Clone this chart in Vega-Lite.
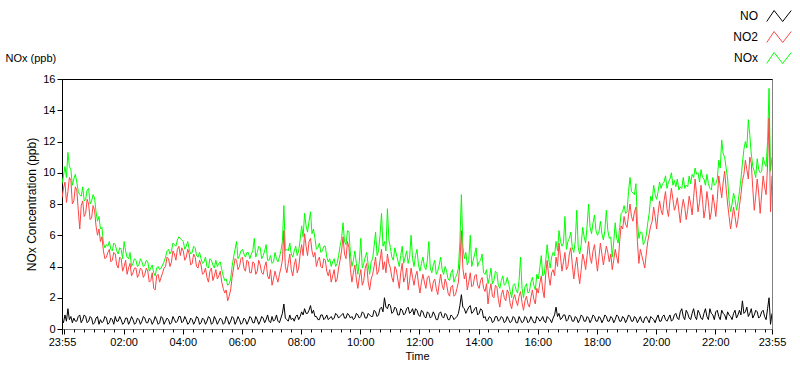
{
  "$schema": "https://vega.github.io/schema/vega-lite/v6.json",
  "width": 710,
  "height": 250,
  "autosize": "none",
  "padding": {"left": 62, "top": 79, "right": 28, "bottom": 40},
  "background": "white",
  "config": {
    "font": "Liberation Sans",
    "view": {"stroke": "#808080", "strokeWidth": 1},
    "axis": {"domainColor": "black", "tickColor": "black", "labelColor": "black", "titleColor": "black", "labelFontSize": 11, "titleFontSize": 11, "titleFontWeight": "normal", "grid": false, "labelFont": "Liberation Sans", "titleFont": "Liberation Sans"},
    "axisY": {"values": [0,2,4,6,8,10,12,14,16], "tickSize": 5, "labelPadding": 2, "titlePadding": 4, "labelOverlap": false, "titleFontSize": 12},
    "legend": {"labelFont": "Liberation Sans"}
  },
  "data": {"values": [
{"m":0,"b":8.4,"c":9.3,"a":0.6},{"m":3,"b":9.0,"c":9.8,"a":0.4},{"m":6,"b":9.4,"c":10.4,"a":0.9},{"m":9,"b":8.1,"c":9.7,"a":0.5},{"m":12,"b":8.8,"c":11.3,"a":1.3},{"m":15,"b":9.7,"c":10.4,"a":0.6},{"m":18,"b":9.5,"c":10.2,"a":0.8},{"m":21,"b":8.0,"c":9.2,"a":0.4},{"m":24,"b":8.2,"c":9.6,"a":0.7},{"m":27,"b":9.1,"c":9.9,"a":0.5},
{"m":30,"b":8.9,"c":9.4,"a":0.5},{"m":33,"b":7.6,"c":8.8,"a":0.8},{"m":36,"b":6.4,"c":8.6,"a":0.9},{"m":39,"b":7.9,"c":8.5,"a":0.4},{"m":42,"b":8.2,"c":9.1,"a":0.6},{"m":45,"b":7.2,"c":8.2,"a":0.9},{"m":48,"b":7.4,"c":8.3,"a":0.8},{"m":51,"b":8.3,"c":8.9,"a":0.4},{"m":54,"b":8.0,"c":9.0,"a":0.5},{"m":57,"b":7.0,"c":8.0,"a":0.8},
{"m":60,"b":7.1,"c":8.2,"a":0.7},{"m":63,"b":7.9,"c":8.6,"a":0.3},{"m":66,"b":7.6,"c":8.4,"a":0.4},{"m":69,"b":6.6,"c":7.5,"a":0.7},{"m":72,"b":6.0,"c":6.9,"a":0.8},{"m":75,"b":6.4,"c":7.2,"a":0.3},{"m":78,"b":5.6,"c":6.4,"a":0.6},{"m":81,"b":5.9,"c":6.5,"a":0.4},{"m":84,"b":5.0,"c":5.5,"a":0.5},{"m":87,"b":4.5,"c":5.2,"a":0.8},
{"m":90,"b":4.6,"c":5.4,"a":0.7},{"m":93,"b":4.9,"c":5.3,"a":0.3},{"m":96,"b":5.1,"c":5.6,"a":0.4},{"m":99,"b":4.3,"c":5.1,"a":0.7},{"m":102,"b":4.4,"c":5.0,"a":0.6},{"m":105,"b":4.9,"c":5.5,"a":0.3},{"m":108,"b":4.8,"c":5.4,"a":0.8},{"m":111,"b":4.1,"c":5.0,"a":0.5},{"m":114,"b":3.9,"c":4.8,"a":0.5},{"m":117,"b":4.6,"c":5.2,"a":0.8},
{"m":120,"b":4.5,"c":5.1,"a":0.6},{"m":123,"b":3.7,"c":4.5,"a":0.3},{"m":126,"b":4.0,"c":5.6,"a":0.4},{"m":129,"b":4.4,"c":5.0,"a":0.7},{"m":132,"b":3.5,"c":4.6,"a":0.7},{"m":135,"b":3.9,"c":4.5,"a":0.3},{"m":138,"b":4.2,"c":4.9,"a":0.5},{"m":141,"b":3.4,"c":4.0,"a":0.8},{"m":144,"b":3.6,"c":4.2,"a":0.6},{"m":147,"b":3.9,"c":4.5,"a":0.3},
{"m":150,"b":3.9,"c":4.4,"a":0.4},{"m":153,"b":3.3,"c":4.0,"a":0.7},{"m":156,"b":3.5,"c":4.1,"a":0.6},{"m":159,"b":3.9,"c":4.5,"a":0.3},{"m":162,"b":3.8,"c":4.3,"a":0.5},{"m":165,"b":3.3,"c":4.0,"a":0.8},{"m":168,"b":3.5,"c":4.1,"a":0.7},{"m":171,"b":3.9,"c":4.4,"a":0.4},{"m":174,"b":3.7,"c":4.3,"a":0.4},{"m":177,"b":3.0,"c":3.7,"a":0.7},
{"m":180,"b":3.1,"c":3.9,"a":0.6},{"m":183,"b":3.6,"c":4.1,"a":0.3},{"m":186,"b":2.6,"c":3.6,"a":0.5},{"m":189,"b":2.5,"c":3.4,"a":0.8},{"m":192,"b":3.4,"c":3.9,"a":0.6},{"m":195,"b":3.5,"c":4.0,"a":0.3},{"m":198,"b":3.0,"c":3.8,"a":0.4},{"m":201,"b":3.3,"c":3.9,"a":0.8},{"m":204,"b":3.6,"c":4.1,"a":0.7},{"m":207,"b":3.9,"c":4.3,"a":0.3},
{"m":210,"b":4.0,"c":4.6,"a":0.5},{"m":213,"b":4.6,"c":5.0,"a":0.7},{"m":216,"b":4.5,"c":5.1,"a":0.6},{"m":219,"b":4.0,"c":4.8,"a":0.3},{"m":222,"b":4.3,"c":5.0,"a":0.4},{"m":225,"b":5.0,"c":5.5,"a":0.8},{"m":228,"b":4.8,"c":5.4,"a":0.6},{"m":231,"b":4.4,"c":5.3,"a":0.4},{"m":234,"b":5.1,"c":5.7,"a":0.5},{"m":237,"b":5.3,"c":5.9,"a":0.8},
{"m":240,"b":4.7,"c":5.8,"a":0.8},{"m":243,"b":5.2,"c":5.7,"a":0.4},{"m":246,"b":5.0,"c":5.6,"a":0.5},{"m":249,"b":4.4,"c":5.1,"a":0.8},{"m":252,"b":4.6,"c":5.3,"a":0.6},{"m":255,"b":5.1,"c":5.6,"a":0.3},{"m":258,"b":4.8,"c":5.1,"a":0.4},{"m":261,"b":4.1,"c":4.8,"a":0.7},{"m":264,"b":4.2,"c":4.9,"a":0.6},{"m":267,"b":4.8,"c":5.3,"a":0.3},
{"m":270,"b":4.6,"c":5.2,"a":0.5},{"m":273,"b":4.0,"c":4.7,"a":0.8},{"m":276,"b":3.9,"c":4.6,"a":0.7},{"m":279,"b":4.4,"c":4.9,"a":0.3},{"m":282,"b":4.1,"c":4.5,"a":0.4},{"m":285,"b":3.5,"c":4.2,"a":0.7},{"m":288,"b":3.6,"c":4.3,"a":0.6},{"m":291,"b":3.9,"c":4.6,"a":0.3},{"m":294,"b":3.3,"c":4.0,"a":0.5},{"m":297,"b":3.0,"c":3.9,"a":0.8},
{"m":300,"b":3.7,"c":4.5,"a":0.7},{"m":303,"b":3.9,"c":4.4,"a":0.3},{"m":306,"b":3.1,"c":4.1,"a":0.4},{"m":309,"b":3.4,"c":3.9,"a":0.8},{"m":312,"b":3.8,"c":4.4,"a":0.6},{"m":315,"b":3.2,"c":4.0,"a":0.3},{"m":318,"b":3.4,"c":4.2,"a":0.5},{"m":321,"b":3.7,"c":4.3,"a":0.7},{"m":324,"b":3.0,"c":3.8,"a":0.6},{"m":327,"b":2.6,"c":3.4,"a":0.3},
{"m":330,"b":2.3,"c":3.1,"a":0.4},{"m":333,"b":2.5,"c":3.2,"a":0.8},{"m":336,"b":1.8,"c":2.8,"a":0.6},{"m":339,"b":2.1,"c":2.9,"a":0.3},{"m":342,"b":2.5,"c":3.2,"a":0.5},{"m":345,"b":3.3,"c":4.0,"a":0.8},{"m":348,"b":3.9,"c":4.6,"a":0.7},{"m":351,"b":4.5,"c":5.1,"a":0.3},{"m":354,"b":4.4,"c":5.6,"a":0.5},{"m":357,"b":3.8,"c":4.5,"a":0.8},
{"m":360,"b":4.0,"c":4.7,"a":0.6},{"m":363,"b":4.5,"c":5.0,"a":0.3},{"m":366,"b":4.6,"c":5.1,"a":0.4},{"m":369,"b":3.9,"c":4.8,"a":0.7},{"m":372,"b":3.7,"c":4.6,"a":0.6},{"m":375,"b":4.4,"c":4.9,"a":0.3},{"m":378,"b":4.3,"c":4.9,"a":0.5},{"m":381,"b":3.6,"c":4.5,"a":0.8},{"m":384,"b":3.6,"c":4.8,"a":0.7},{"m":387,"b":4.3,"c":5.0,"a":0.4},
{"m":390,"b":4.2,"c":5.8,"a":0.4},{"m":393,"b":3.5,"c":4.6,"a":0.8},{"m":396,"b":3.7,"c":4.9,"a":0.6},{"m":399,"b":4.4,"c":5.3,"a":0.3},{"m":402,"b":4.1,"c":5.2,"a":0.5},{"m":405,"b":3.6,"c":4.5,"a":0.8},{"m":408,"b":3.5,"c":4.7,"a":0.7},{"m":411,"b":4.0,"c":5.0,"a":0.4},{"m":414,"b":4.3,"c":5.4,"a":0.6},{"m":417,"b":3.4,"c":4.4,"a":0.9},
{"m":420,"b":3.2,"c":4.4,"a":0.5},{"m":423,"b":3.8,"c":4.7,"a":0.4},{"m":426,"b":2.8,"c":4.2,"a":0.8},{"m":429,"b":3.2,"c":4.3,"a":0.5},{"m":432,"b":3.7,"c":4.9,"a":0.6},{"m":435,"b":3.3,"c":4.5,"a":0.9},{"m":438,"b":3.0,"c":4.3,"a":0.5},{"m":441,"b":3.5,"c":4.6,"a":0.4},{"m":444,"b":3.9,"c":5.0,"a":0.7},{"m":447,"b":4.4,"c":5.6,"a":1.0},
{"m":450,"b":6.3,"c":7.9,"a":1.6},{"m":453,"b":4.0,"c":5.0,"a":0.7},{"m":456,"b":3.6,"c":5.1,"a":0.6},{"m":459,"b":4.2,"c":5.0,"a":0.5},{"m":462,"b":4.8,"c":5.5,"a":0.9},{"m":465,"b":3.8,"c":4.8,"a":0.6},{"m":468,"b":3.4,"c":4.6,"a":0.7},{"m":471,"b":4.1,"c":5.0,"a":0.5},{"m":474,"b":4.5,"c":5.3,"a":0.8},{"m":477,"b":3.6,"c":4.7,"a":0.9},
{"m":480,"b":3.9,"c":5.0,"a":0.6},{"m":483,"b":4.8,"c":5.7,"a":0.8},{"m":486,"b":5.4,"c":6.6,"a":1.1},{"m":489,"b":4.7,"c":5.9,"a":0.9},{"m":492,"b":6.1,"c":7.4,"a":1.3},{"m":495,"b":5.3,"c":6.6,"a":1.0},{"m":498,"b":4.7,"c":6.2,"a":1.0},{"m":501,"b":5.6,"c":6.9,"a":1.2},{"m":504,"b":5.8,"c":7.5,"a":1.5},{"m":507,"b":5.0,"c":6.1,"a":1.0},
{"m":510,"b":4.6,"c":6.4,"a":1.2},{"m":513,"b":4.9,"c":5.8,"a":0.8},{"m":516,"b":4.0,"c":5.1,"a":0.8},{"m":519,"b":4.4,"c":5.2,"a":0.6},{"m":522,"b":4.6,"c":5.5,"a":0.6},{"m":525,"b":4.0,"c":4.9,"a":0.9},{"m":528,"b":3.9,"c":5.0,"a":0.9},{"m":531,"b":4.5,"c":5.3,"a":0.6},{"m":534,"b":4.4,"c":5.3,"a":0.7},{"m":537,"b":3.7,"c":4.6,"a":0.9},
{"m":540,"b":3.4,"c":4.3,"a":0.6},{"m":543,"b":3.8,"c":4.5,"a":0.7},{"m":546,"b":3.0,"c":4.0,"a":0.8},{"m":549,"b":3.4,"c":4.3,"a":0.6},{"m":552,"b":3.8,"c":4.5,"a":0.7},{"m":555,"b":3.0,"c":4.0,"a":1.0},{"m":558,"b":3.2,"c":4.2,"a":0.9},{"m":561,"b":3.9,"c":4.7,"a":0.7},{"m":564,"b":4.4,"c":5.3,"a":0.8},{"m":567,"b":5.0,"c":5.8,"a":0.9},
{"m":570,"b":5.9,"c":6.8,"a":1.0},{"m":573,"b":4.8,"c":5.6,"a":0.7},{"m":576,"b":4.5,"c":5.4,"a":0.7},{"m":579,"b":5.6,"c":6.3,"a":1.0},{"m":582,"b":5.2,"c":6.2,"a":0.9},{"m":585,"b":3.8,"c":4.8,"a":0.7},{"m":588,"b":3.0,"c":4.0,"a":0.8},{"m":591,"b":3.6,"c":4.4,"a":0.6},{"m":594,"b":4.1,"c":5.0,"a":0.7},{"m":597,"b":3.2,"c":4.2,"a":1.0},
{"m":600,"b":2.6,"c":3.5,"a":0.9},{"m":603,"b":3.3,"c":4.3,"a":0.7},{"m":606,"b":3.8,"c":5.8,"a":0.8},{"m":609,"b":2.8,"c":3.9,"a":1.1},{"m":612,"b":3.1,"c":4.2,"a":1.0},{"m":615,"b":3.9,"c":4.6,"a":0.7},{"m":618,"b":4.2,"c":4.9,"a":0.7},{"m":621,"b":3.0,"c":4.1,"a":1.0},{"m":624,"b":2.5,"c":3.5,"a":0.9},{"m":627,"b":3.2,"c":4.3,"a":0.8},
{"m":630,"b":3.5,"c":4.5,"a":0.8},{"m":633,"b":4.0,"c":5.3,"a":1.2},{"m":636,"b":4.6,"c":6.2,"a":1.1},{"m":639,"b":3.5,"c":4.7,"a":0.8},{"m":642,"b":3.7,"c":5.0,"a":0.9},{"m":645,"b":4.4,"c":6.0,"a":1.3},{"m":648,"b":5.1,"c":7.4,"a":1.4},{"m":651,"b":3.8,"c":5.3,"a":1.1},{"m":654,"b":4.3,"c":5.6,"a":2.0},{"m":657,"b":3.6,"c":5.0,"a":1.4},
{"m":660,"b":4.8,"c":7.7,"a":1.3},{"m":663,"b":4.2,"c":5.7,"a":1.6},{"m":666,"b":3.9,"c":5.2,"a":1.5},{"m":669,"b":3.3,"c":4.6,"a":1.0},{"m":672,"b":3.0,"c":4.4,"a":1.1},{"m":675,"b":4.0,"c":5.2,"a":1.4},{"m":678,"b":3.8,"c":4.8,"a":1.3},{"m":681,"b":3.2,"c":4.4,"a":0.9},{"m":684,"b":2.6,"c":4.0,"a":0.9},{"m":687,"b":3.6,"c":4.7,"a":1.3},
{"m":690,"b":4.2,"c":5.3,"a":1.2},{"m":693,"b":3.0,"c":4.2,"a":0.9},{"m":696,"b":3.3,"c":4.6,"a":1.0},{"m":699,"b":3.9,"c":5.0,"a":1.3},{"m":702,"b":2.5,"c":4.2,"a":1.4},{"m":705,"b":3.1,"c":4.6,"a":1.0},{"m":708,"b":3.9,"c":6.0,"a":1.1},{"m":711,"b":3.3,"c":4.5,"a":1.3},{"m":714,"b":2.8,"c":4.0,"a":0.9},{"m":717,"b":3.4,"c":4.7,"a":1.3},
{"m":720,"b":3.7,"c":5.1,"a":1.2},{"m":723,"b":2.9,"c":4.1,"a":0.9},{"m":726,"b":2.3,"c":3.7,"a":0.8},{"m":729,"b":3.0,"c":4.2,"a":1.2},{"m":732,"b":3.5,"c":4.6,"a":1.1},{"m":735,"b":3.0,"c":4.0,"a":0.8},{"m":738,"b":2.6,"c":3.8,"a":0.7},{"m":741,"b":3.3,"c":4.4,"a":1.1},{"m":744,"b":3.4,"c":5.6,"a":1.0},{"m":747,"b":2.8,"c":3.9,"a":0.7},
{"m":750,"b":2.4,"c":3.6,"a":0.8},{"m":753,"b":3.0,"c":4.1,"a":1.1},{"m":756,"b":3.2,"c":4.4,"a":0.9},{"m":759,"b":2.6,"c":3.5,"a":0.6},{"m":762,"b":2.2,"c":3.7,"a":0.6},{"m":765,"b":2.9,"c":4.1,"a":1.0},{"m":768,"b":3.5,"c":4.6,"a":1.1},{"m":771,"b":2.8,"c":3.8,"a":0.8},{"m":774,"b":2.5,"c":3.5,"a":0.7},{"m":777,"b":3.2,"c":4.0,"a":1.0},
{"m":780,"b":2.9,"c":3.7,"a":0.9},{"m":783,"b":2.3,"c":3.2,"a":0.6},{"m":786,"b":2.1,"c":3.1,"a":0.6},{"m":789,"b":2.7,"c":3.6,"a":0.9},{"m":792,"b":2.8,"c":3.8,"a":0.8},{"m":795,"b":2.1,"c":3.0,"a":0.6},{"m":798,"b":2.2,"c":3.3,"a":0.7},{"m":801,"b":2.6,"c":3.5,"a":0.8},{"m":804,"b":3.0,"c":3.9,"a":1.0},{"m":807,"b":4.2,"c":5.6,"a":1.5},
{"m":810,"b":6.3,"c":8.6,"a":2.2},{"m":813,"b":3.9,"c":5.3,"a":1.4},{"m":816,"b":3.2,"c":4.5,"a":1.3},{"m":819,"b":3.6,"c":4.9,"a":1.0},{"m":822,"b":2.5,"c":4.1,"a":1.2},{"m":825,"b":3.0,"c":4.4,"a":1.4},{"m":828,"b":3.6,"c":6.0,"a":1.5},{"m":831,"b":2.7,"c":4.0,"a":1.0},{"m":834,"b":2.8,"c":4.4,"a":1.1},{"m":837,"b":3.4,"c":4.8,"a":1.3},
{"m":840,"b":3.5,"c":5.2,"a":1.4},{"m":843,"b":2.8,"c":4.0,"a":0.9},{"m":846,"b":2.6,"c":4.3,"a":1.0},{"m":849,"b":3.1,"c":4.4,"a":1.3},{"m":852,"b":3.3,"c":4.8,"a":1.2},{"m":855,"b":2.6,"c":3.6,"a":0.7},{"m":858,"b":2.4,"c":3.5,"a":0.8},{"m":861,"b":2.9,"c":3.8,"a":0.5},{"m":864,"b":1.6,"c":2.9,"a":0.6},{"m":867,"b":2.4,"c":3.3,"a":0.8},
{"m":870,"b":2.9,"c":3.9,"a":0.7},{"m":873,"b":2.1,"c":2.9,"a":0.4},{"m":876,"b":2.0,"c":3.1,"a":0.5},{"m":879,"b":2.8,"c":3.7,"a":0.8},{"m":882,"b":2.7,"c":3.6,"a":0.8},{"m":885,"b":1.9,"c":2.8,"a":0.5},{"m":888,"b":1.4,"c":2.6,"a":0.6},{"m":891,"b":2.2,"c":3.1,"a":0.8},{"m":894,"b":2.5,"c":3.4,"a":0.7},{"m":897,"b":2.0,"c":2.8,"a":0.4},
{"m":900,"b":1.8,"c":2.9,"a":0.5},{"m":903,"b":2.5,"c":3.3,"a":0.8},{"m":906,"b":2.3,"c":2.9,"a":0.6},{"m":909,"b":1.6,"c":2.4,"a":0.4},{"m":912,"b":1.3,"c":2.0,"a":0.5},{"m":915,"b":1.9,"c":2.8,"a":0.8},{"m":918,"b":2.2,"c":2.9,"a":0.7},{"m":921,"b":1.8,"c":2.5,"a":0.4},{"m":924,"b":1.5,"c":2.3,"a":0.4},{"m":927,"b":2.1,"c":3.1,"a":0.8},
{"m":930,"b":2.4,"c":4.6,"a":0.6},{"m":933,"b":1.7,"c":2.6,"a":0.4},{"m":936,"b":1.2,"c":2.0,"a":0.5},{"m":939,"b":1.8,"c":2.7,"a":0.8},{"m":942,"b":2.1,"c":2.9,"a":0.7},{"m":945,"b":1.6,"c":2.3,"a":0.4},{"m":948,"b":1.4,"c":2.4,"a":0.5},{"m":951,"b":2.0,"c":3.0,"a":0.8},{"m":954,"b":2.5,"c":3.3,"a":0.6},{"m":957,"b":1.9,"c":2.8,"a":0.4},
{"m":960,"b":1.6,"c":2.5,"a":0.4},{"m":963,"b":2.6,"c":3.5,"a":0.8},{"m":966,"b":2.3,"c":3.2,"a":0.7},{"m":969,"b":2.9,"c":3.9,"a":0.5},{"m":972,"b":3.4,"c":4.7,"a":0.6},{"m":975,"b":2.5,"c":3.4,"a":0.8},{"m":978,"b":2.0,"c":3.5,"a":0.5},{"m":981,"b":3.5,"c":4.4,"a":0.4},{"m":984,"b":4.4,"c":5.4,"a":0.8},{"m":987,"b":3.4,"c":4.5,"a":0.7},
{"m":990,"b":2.8,"c":3.9,"a":0.6},{"m":993,"b":3.6,"c":4.6,"a":0.4},{"m":996,"b":3.8,"c":4.9,"a":0.7},{"m":999,"b":3.4,"c":4.7,"a":0.9},{"m":1002,"b":4.6,"c":5.6,"a":1.4},{"m":1005,"b":4.0,"c":5.0,"a":0.8},{"m":1008,"b":5.5,"c":6.3,"a":1.0},{"m":1011,"b":4.6,"c":5.6,"a":0.6},{"m":1014,"b":3.7,"c":5.3,"a":0.7},{"m":1017,"b":4.3,"c":5.5,"a":0.9},
{"m":1020,"b":4.9,"c":7.2,"a":0.9},{"m":1023,"b":3.8,"c":5.1,"a":0.5},{"m":1026,"b":4.0,"c":5.6,"a":0.6},{"m":1029,"b":4.8,"c":5.8,"a":0.9},{"m":1032,"b":5.2,"c":6.2,"a":0.8},{"m":1035,"b":4.1,"c":5.2,"a":0.5},{"m":1038,"b":3.2,"c":4.9,"a":0.5},{"m":1041,"b":4.0,"c":5.6,"a":0.8},{"m":1044,"b":4.6,"c":7.6,"a":0.7},{"m":1047,"b":3.6,"c":5.2,"a":0.4},
{"m":1050,"b":2.9,"c":4.8,"a":0.6},{"m":1053,"b":3.8,"c":5.4,"a":0.9},{"m":1056,"b":4.8,"c":6.5,"a":0.8},{"m":1059,"b":4.4,"c":5.9,"a":0.5},{"m":1062,"b":3.8,"c":5.5,"a":0.5},{"m":1065,"b":4.7,"c":6.6,"a":0.8},{"m":1068,"b":5.6,"c":8.0,"a":0.7},{"m":1071,"b":4.6,"c":6.5,"a":0.4},{"m":1074,"b":4.2,"c":6.1,"a":0.6},{"m":1077,"b":5.0,"c":6.8,"a":0.9},
{"m":1080,"b":5.4,"c":7.3,"a":0.8},{"m":1083,"b":4.5,"c":6.3,"a":0.5},{"m":1086,"b":3.7,"c":6.0,"a":0.5},{"m":1089,"b":4.6,"c":6.2,"a":0.8},{"m":1092,"b":5.5,"c":6.9,"a":0.7},{"m":1095,"b":4.8,"c":6.1,"a":0.4},{"m":1098,"b":4.1,"c":5.7,"a":0.6},{"m":1101,"b":4.7,"c":6.3,"a":0.9},{"m":1104,"b":5.3,"c":7.6,"a":0.8},{"m":1107,"b":4.9,"c":6.3,"a":0.5},
{"m":1110,"b":4.3,"c":5.8,"a":0.5},{"m":1113,"b":4.8,"c":5.9,"a":0.8},{"m":1116,"b":3.8,"c":4.6,"a":0.7},{"m":1119,"b":4.4,"c":5.6,"a":0.4},{"m":1122,"b":5.1,"c":6.8,"a":0.6},{"m":1125,"b":4.6,"c":5.8,"a":0.9},{"m":1128,"b":4.2,"c":5.5,"a":0.8},{"m":1131,"b":5.6,"c":6.5,"a":0.5},{"m":1134,"b":6.6,"c":7.4,"a":0.5},{"m":1137,"b":6.4,"c":7.5,"a":0.8},
{"m":1140,"b":7.2,"c":7.9,"a":0.7},{"m":1143,"b":6.7,"c":7.4,"a":0.4},{"m":1146,"b":6.5,"c":7.5,"a":0.6},{"m":1149,"b":7.3,"c":8.8,"a":0.9},{"m":1152,"b":8.0,"c":9.7,"a":0.8},{"m":1155,"b":7.2,"c":8.8,"a":0.5},{"m":1158,"b":6.9,"c":8.7,"a":0.5},{"m":1161,"b":7.5,"c":8.6,"a":0.8},{"m":1164,"b":7.8,"c":9.3,"a":0.7},{"m":1167,"b":5.6,"c":6.9,"a":0.4},
{"m":1170,"b":4.2,"c":5.8,"a":0.6},{"m":1173,"b":5.1,"c":6.2,"a":0.8},{"m":1176,"b":4.7,"c":6.2,"a":0.5},{"m":1179,"b":4.3,"c":5.4,"a":0.4},{"m":1182,"b":3.9,"c":5.6,"a":0.7},{"m":1185,"b":4.8,"c":6.0,"a":0.8},{"m":1188,"b":5.6,"c":6.8,"a":0.6},{"m":1191,"b":6.1,"c":7.4,"a":0.4},{"m":1194,"b":6.6,"c":8.5,"a":0.8},{"m":1197,"b":6.9,"c":8.2,"a":0.7},
{"m":1200,"b":7.8,"c":9.2,"a":0.6},{"m":1203,"b":7.2,"c":8.6,"a":0.4},{"m":1206,"b":6.4,"c":8.3,"a":0.7},{"m":1209,"b":7.4,"c":8.8,"a":0.9},{"m":1212,"b":8.2,"c":9.4,"a":0.5},{"m":1215,"b":7.6,"c":9.0,"a":0.5},{"m":1218,"b":7.3,"c":9.3,"a":0.8},{"m":1221,"b":8.2,"c":9.4,"a":0.9},{"m":1224,"b":8.8,"c":9.8,"a":0.6},{"m":1227,"b":7.7,"c":9.0,"a":0.5},
{"m":1230,"b":7.2,"c":9.4,"a":0.7},{"m":1233,"b":8.2,"c":9.6,"a":0.9},{"m":1236,"b":9.0,"c":10.0,"a":0.5},{"m":1239,"b":8.3,"c":9.2,"a":0.6},{"m":1242,"b":7.6,"c":9.5,"a":0.9},{"m":1245,"b":7.9,"c":9.1,"a":1.0},{"m":1248,"b":8.4,"c":9.6,"a":0.7},{"m":1251,"b":7.6,"c":8.9,"a":0.6},{"m":1254,"b":6.8,"c":9.1,"a":1.1},{"m":1257,"b":7.7,"c":9.0,"a":1.3},
{"m":1260,"b":8.3,"c":9.7,"a":0.8},{"m":1263,"b":7.8,"c":9.0,"a":0.6},{"m":1266,"b":7.0,"c":9.2,"a":1.2},{"m":1269,"b":7.6,"c":9.1,"a":1.0},{"m":1272,"b":8.5,"c":9.8,"a":0.7},{"m":1275,"b":8.0,"c":9.3,"a":0.6},{"m":1278,"b":7.3,"c":9.9,"a":1.0},{"m":1281,"b":8.4,"c":9.7,"a":1.3},{"m":1284,"b":9.6,"c":10.3,"a":0.8},{"m":1287,"b":8.6,"c":9.9,"a":0.6},
{"m":1290,"b":7.5,"c":10.0,"a":1.2},{"m":1293,"b":8.1,"c":9.4,"a":1.0},{"m":1296,"b":9.2,"c":10.2,"a":0.7},{"m":1299,"b":8.3,"c":9.7,"a":0.6},{"m":1302,"b":7.1,"c":9.6,"a":1.0},{"m":1305,"b":7.7,"c":9.2,"a":1.3},{"m":1308,"b":8.8,"c":9.9,"a":0.8},{"m":1311,"b":8.1,"c":9.3,"a":0.6},{"m":1314,"b":7.0,"c":9.0,"a":1.3},{"m":1317,"b":7.5,"c":8.9,"a":1.0},
{"m":1320,"b":8.6,"c":9.7,"a":0.9},{"m":1323,"b":8.0,"c":9.2,"a":0.6},{"m":1326,"b":7.2,"c":9.3,"a":1.1},{"m":1329,"b":8.3,"c":9.6,"a":1.2},{"m":1332,"b":9.8,"c":10.8,"a":0.8},{"m":1335,"b":9.1,"c":10.3,"a":0.6},{"m":1338,"b":8.4,"c":12.1,"a":1.2},{"m":1341,"b":9.4,"c":11.2,"a":1.0},{"m":1344,"b":10.1,"c":11.0,"a":0.9},{"m":1347,"b":9.0,"c":10.3,"a":0.6},
{"m":1350,"b":8.0,"c":9.6,"a":1.1},{"m":1353,"b":7.2,"c":8.2,"a":0.9},{"m":1356,"b":6.4,"c":7.5,"a":0.8},{"m":1359,"b":7.1,"c":8.0,"a":0.6},{"m":1362,"b":7.8,"c":8.7,"a":1.0},{"m":1365,"b":7.2,"c":8.3,"a":1.2},{"m":1368,"b":6.5,"c":7.6,"a":0.7},{"m":1371,"b":7.0,"c":8.1,"a":0.9},{"m":1374,"b":7.9,"c":8.8,"a":1.2},{"m":1377,"b":8.6,"c":9.6,"a":0.9},
{"m":1380,"b":9.5,"c":10.6,"a":1.8},{"m":1383,"b":9.9,"c":11.5,"a":1.0},{"m":1386,"b":10.8,"c":12.0,"a":1.1},{"m":1389,"b":10.2,"c":11.6,"a":1.4},{"m":1392,"b":9.6,"c":13.4,"a":0.8},{"m":1395,"b":11.0,"c":12.4,"a":1.0},{"m":1398,"b":10.6,"c":11.2,"a":1.3},{"m":1401,"b":9.0,"c":10.4,"a":0.7},{"m":1404,"b":7.6,"c":10.1,"a":0.9},{"m":1407,"b":8.5,"c":9.7,"a":1.2},
{"m":1410,"b":9.6,"c":10.9,"a":1.1},{"m":1413,"b":8.7,"c":10.2,"a":0.7},{"m":1416,"b":7.4,"c":10.0,"a":0.8},{"m":1419,"b":8.6,"c":10.1,"a":1.1},{"m":1422,"b":9.8,"c":11.0,"a":1.2},{"m":1425,"b":9.1,"c":10.6,"a":0.8},{"m":1428,"b":8.6,"c":10.4,"a":0.6},{"m":1431,"b":10.5,"c":12.0,"a":1.3},{"m":1434,"b":13.5,"c":15.4,"a":2.0},{"m":1437,"b":7.5,"c":10.1,"a":0.3},
{"m":1440,"b":9.8,"c":11.0,"a":1.0}
  ]},
  "layer": [
    {
      "mark": {"type": "line", "strokeWidth": 1, "clip": true},
      "encoding": {
        "x": {"field": "m", "type": "quantitative", "title": "Time",
          "scale": {"domain": [0, 1440], "nice": false, "zero": false},
          "axis": {"orient": "bottom", "domain": false, "titlePadding": 3,
            "values": [0,5,25,45,65,85,105,125,145,165,185,205,225,245,265,285,305,325,345,365,385,405,425,445,465,485,505,525,545,565,585,605,625,645,665,685,705,725,745,765,785,805,825,845,865,885,905,925,945,965,985,1005,1025,1045,1065,1085,1105,1125,1145,1165,1185,1205,1225,1245,1265,1285,1305,1325,1345,1365,1385,1405,1425,1440],
            "labelExpr": "datum.value % 1440 == 0 ? '23:55' : ((datum.value % 120 == 5 && datum.value > 5) ? format((datum.value + 5) / 60, '02d') + ':00' : '')",
            "labelOverlap": false, "labelFlush": false, "labelPadding": 2,
            "tickSize": {"condition": {"test": "datum.value % 120 == 5 || datum.value % 1440 == 0", "value": 5}, "value": 3}}},
        "y": {"field": "c", "type": "quantitative", "title": "NOx Concentration (ppb)",
          "scale": {"domain": [0, 16], "nice": false},
          "axis": {"values": [0,2,4,6,8,10,12,14,16], "labelOverlap": false}},
        "color": {"datum": "NOx", "type": "nominal",
          "scale": {"domain": ["NO", "NO2", "NOx"], "range": ["#000000", "#ff4444", "#00ff00"]},
          "legend": {"title": null, "orient": "none", "legendX": 700, "legendY": -80,
            "symbolType": "M-1,0.45L-0.4,-0.45L0.3,0.45L1,-0.45",
            "symbolSize": 600, "symbolStrokeWidth": 1, "symbolFillColor": "transparent",
            "labelAlign": "right", "labelOffset": -34, "labelFontSize": 12, "labelColor": "black",
            "rowPadding": 0, "padding": 4}}
      }
    },
    {
      "mark": {"type": "line", "strokeWidth": 1, "clip": true},
      "encoding": {
        "x": {"field": "m", "type": "quantitative",
          "axis": {"orient": "top", "labels": false, "ticks": false, "domainColor": "black",
            "title": "NOx (ppb)", "titleAnchor": "start", "titleAlign": "left", "titleBaseline": "alphabetic", "titleX": -57, "titleY": -18, "titleFontSize": 11}},
        "y": {"field": "b", "type": "quantitative", "axis": {"values": [0,2,4,6,8,10,12,14,16], "labelOverlap": false}},
        "color": {"datum": "NO2", "type": "nominal"}
      }
    },
    {
      "mark": {"type": "line", "strokeWidth": 1, "clip": true},
      "encoding": {
        "x": {"field": "m", "type": "quantitative", "axis": null},
        "y": {"field": "a", "type": "quantitative", "axis": {"values": [0,2,4,6,8,10,12,14,16], "labelOverlap": false}},
        "color": {"datum": "NO", "type": "nominal"}
      }
    }
  ],
  "resolve": {"axis": {"x": "independent"}}
}
